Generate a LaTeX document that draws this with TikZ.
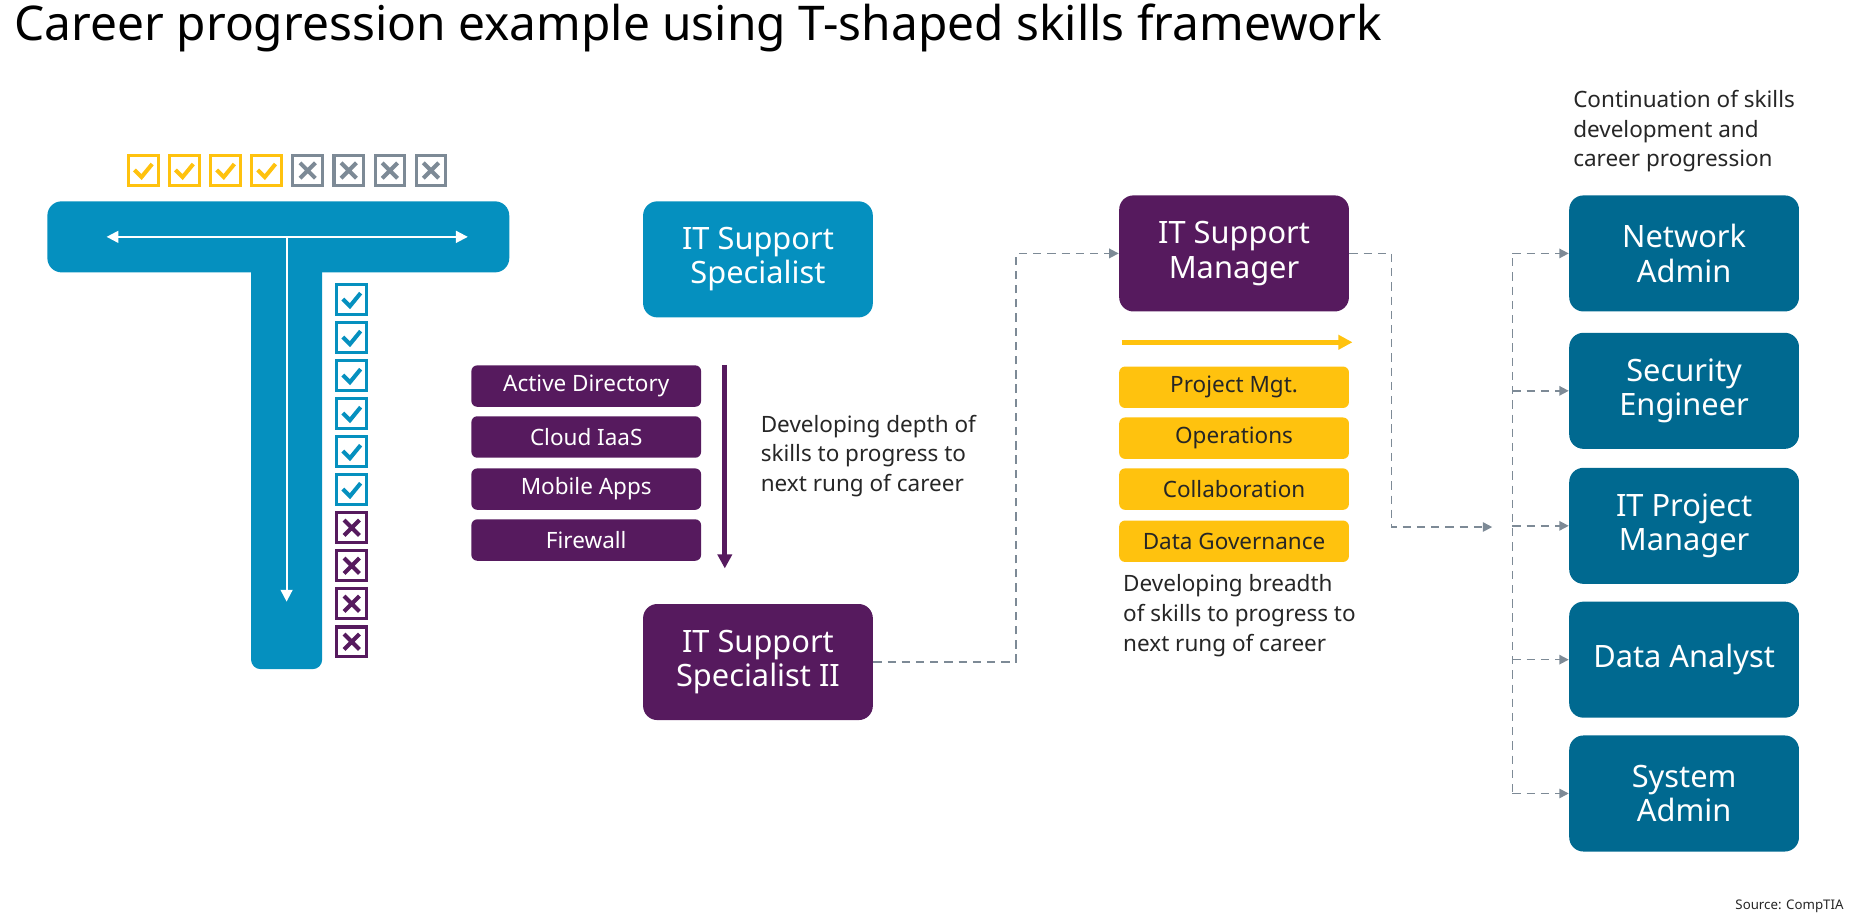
\documentclass[tikz,border=0pt]{standalone}
\usepackage{fontspec}
\setmainfont{Noto Sans}
\usetikzlibrary{arrows.meta}
\definecolor{tblue}{HTML}{0590BF}
\definecolor{tpurple}{HTML}{561A5E}
\definecolor{tyellow}{HTML}{FFC20E}
\definecolor{tgray}{HTML}{7D8A96}
\definecolor{tteal}{HTML}{006990}
\definecolor{ttext}{HTML}{262626}
\tikzset{
  rolebox/.style={rounded corners=6pt, minimum width=97pt, minimum height=49pt, text=white, align=center, font=\fontsize{13}{14.5}\selectfont, inner sep=0pt},
  skillbox/.style={rounded corners=2.5pt, minimum width=97pt, minimum height=17.5pt, inner sep=0pt, font=\fontsize{9.5}{10}\selectfont},
  desc/.style={anchor=north west, align=left, text=ttext, font=\fontsize{9.5}{12.5}\selectfont, inner sep=0pt},
  flow/.style={dash pattern=on 3.5pt off 2.5pt, tgray, line width=0.7pt, -{Triangle[length=4pt,width=4pt]}},
}
% tick and cross boxes, upper left corner at (#1,#2)
\newcommand\tickbox[3]{%
  \draw[#3, line width=1.3pt] (#1,#2) rectangle ++(25,25);
  \draw[#3, line width=1.7pt] (#1+5,#2+12) -- (#1+11,#2+18) -- (#1+20,#2+7);}
\newcommand\crossbox[3]{%
  \draw[#3, line width=1.3pt] (#1,#2) rectangle ++(25,25);
  \draw[#3, line width=1.7pt] (#1+6,#2+6) -- (#1+19,#2+19) (#1+6,#2+19) -- (#1+19,#2+6);}
\begin{document}
\begin{tikzpicture}[x=0.5pt,y=-0.5pt]
	\useasboundingbox (0,0) rectangle (1568,780);
	\node[anchor=west, inner sep=0pt, text=black, font=\fontsize{20.2}{24}\selectfont] (title) at (12,24) {Career progression example using T-shaped skills framework};
	% the T
	\fill[tblue, rounded corners=6pt] (40,170) rectangle (430,230);
	\fill[tblue, rounded corners=4pt] (212,215) rectangle (272,565);
	\fill[tblue] (212,200) rectangle (272,240);
	\draw[white, line width=0.8pt, {Triangle[length=5pt,width=5pt]}-{Triangle[length=5pt,width=5pt]}] (90,200) -- (395,200);
	\draw[white, line width=0.8pt, -{Triangle[length=5pt,width=5pt]}] (242,200) -- (242,508);
	\foreach \i in {0,...,3} {\tickbox{108.5+34.7*\i}{131.5}{tyellow}}
	\foreach \i in {4,...,7} {\crossbox{108.5+34.7*\i}{131.5}{tgray}}
	\foreach \i in {0,...,5} {\tickbox{284.5}{240.5+32.1*\i}{tblue}}
	\foreach \i in {6,...,9} {\crossbox{284.5}{240.5+32.1*\i}{tpurple}}
	% roles on the ladder
	\node[rolebox, fill=tblue] (s1) at (640,219) {IT Support\\Specialist};
	\node[rolebox, fill=tpurple] (s2) at (640,559) {IT Support\\Specialist II};
	\node[rolebox, fill=tpurple] (mgr) at (1042,214) {IT Support\\Manager};
	\node[skillbox, fill=tpurple, text=white] (k1) at (495,326) {Active Directory};
	\node[skillbox, fill=tpurple, text=white] (k2) at (495,369) {Cloud IaaS};
	\node[skillbox, fill=tpurple, text=white] (k3) at (495,413) {Mobile Apps};
	\node[skillbox, fill=tpurple, text=white] (k4) at (495,456) {Firewall};
	\draw[tpurple, line width=2pt, -{Triangle[length=6pt,width=6pt]}] (612,308) -- (612,480);
	\node[desc] (d1) at (642,350) {Developing depth of\\skills to progress to\\next rung of career};
	\node[skillbox, fill=tyellow, text=ttext] (b1) at (1042,327) {Project Mgt.};
	\node[skillbox, fill=tyellow, text=ttext] (b2) at (1042,370) {Operations};
	\node[skillbox, fill=tyellow, text=ttext] (b3) at (1042,413) {Collaboration};
	\node[skillbox, fill=tyellow, text=ttext] (b4) at (1042,457) {Data Governance};
	\draw[tyellow, line width=2pt, -{Triangle[length=6pt,width=6pt]}] (947,289) -- (1142,289);
	\node[desc] (d2) at (948,485) {Developing breadth\\of skills to progress to\\next rung of career};
	\node[desc] (d3) at (1328,76) {Continuation of skills\\development and\\career progression};
	% next rungs
	\node[rolebox, fill=tteal] (r1) at (1422,214) {Network\\Admin};
	\node[rolebox, fill=tteal] (r2) at (1422,330) {Security\\Engineer};
	\node[rolebox, fill=tteal] (r3) at (1422,444) {IT Project\\Manager};
	\node[rolebox, fill=tteal] (r4) at (1422,557) {Data Analyst};
	\node[rolebox, fill=tteal] (r5) at (1422,670) {System\\Admin};
	% dashed connectors
	\coordinate (hub) at (1260,445);
	\coordinate (spine) at (1277,218);
	\draw[flow] (s2.east) -- (858,559) |- (mgr.west);
	\draw[flow] (mgr.east) -- (1175,214) |- (hub);
	\draw[dash pattern=on 3.5pt off 2.5pt, tgray, line width=0.7pt] (spine) -- (1277,670);
	\foreach \r in {r1,r2,r3,r4,r5} {\draw[flow] (spine |- \r.west) -- (\r.west);}
	\node[anchor=east, inner sep=0pt, text=ttext, font=\fontsize{5.6}{6}\selectfont] (src) at (1557,765) {Source: CompTIA};
\end{tikzpicture}
\end{document}
